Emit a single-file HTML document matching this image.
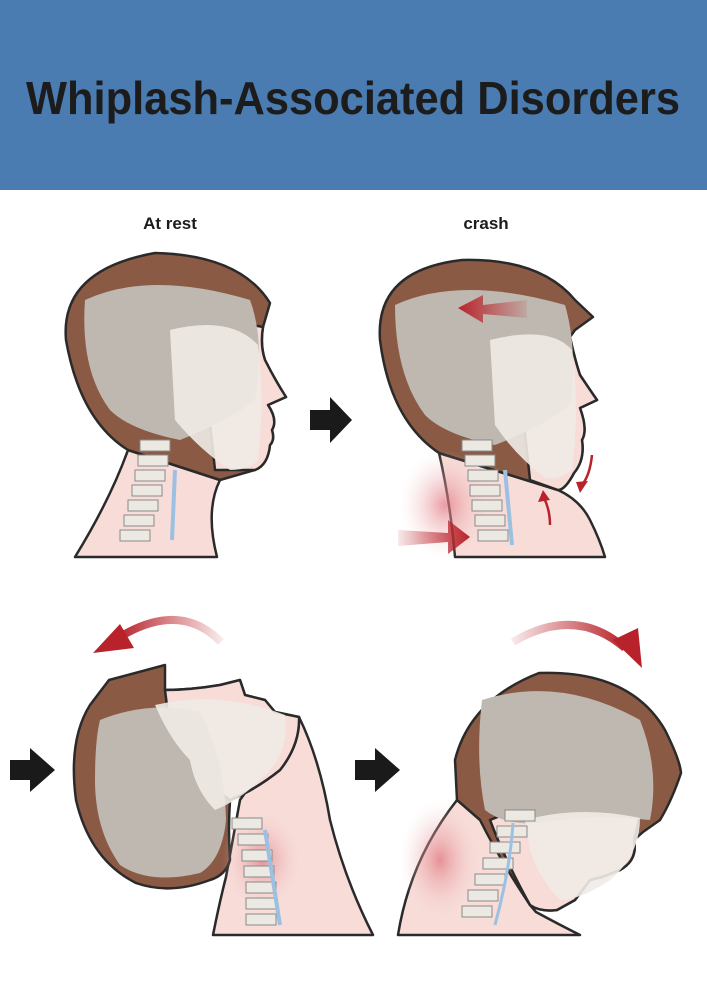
<!DOCTYPE html>
<html><head><meta charset="utf-8"><style>
html,body{margin:0;padding:0;background:#fff;}
svg{display:block;}
</style></head><body>
<svg width="707" height="1000" viewBox="0 0 707 1000" xmlns="http://www.w3.org/2000/svg">
<defs>
<radialGradient id="rg" cx="0.5" cy="0.5" r="0.5"><stop offset="0" stop-color="#e0707a" stop-opacity="0.7"/><stop offset="1" stop-color="#f6d9d6" stop-opacity="0"/></radialGradient>
<linearGradient id="la" x1="1" x2="0"><stop offset="0" stop-color="#b8232b" stop-opacity="0.1"/><stop offset="1" stop-color="#b8232b"/></linearGradient>
<linearGradient id="lb" x1="0" x2="1"><stop offset="0" stop-color="#b8232b" stop-opacity="0.1"/><stop offset="1" stop-color="#b8232b"/></linearGradient>
</defs>
<rect x="0" y="0" width="707" height="190" fill="#4a7bb1"/>
<text x="26" y="114" font-family="Liberation Sans, sans-serif" font-weight="bold" font-size="46" fill="#1c1c1c" textLength="654" lengthAdjust="spacingAndGlyphs">Whiplash-Associated Disorders</text>
<text x="170" y="229" font-family="Liberation Sans, sans-serif" font-weight="bold" font-size="17" fill="#1c1c1c" text-anchor="middle">At rest</text>
<text x="486" y="229" font-family="Liberation Sans, sans-serif" font-weight="bold" font-size="17" fill="#1c1c1c" text-anchor="middle">crash</text>

<!-- Panel 1 -->
<g stroke="#2a2a2a" stroke-width="2.5" stroke-linejoin="round">
<path d="M75 557 Q110 500 128 450 L220 480 Q205 510 217 557 Z" fill="#f7dcd8"/>
<path d="M128 450 Q80 420 66 340 Q60 270 155 253 Q240 255 270 303 L263 327 Q260 345 265 360 Q275 380 286 397 L268 405 Q278 420 272 430 Q275 440 270 445 Q268 465 255 470 L220 480 Z" fill="#8b5a45"/>
<path d="M215 470 L200 330 Q230 320 263 327 Q260 345 265 360 Q275 380 286 397 L268 405 Q278 420 272 430 Q275 440 270 445 Q268 465 255 470 Z" fill="#f7dcd8"/>
</g>
<path d="M85 300 Q150 270 250 300 Q265 340 255 400 Q230 420 180 440 Q130 430 110 410 Q80 370 85 300 Z" fill="#bfb8b0"/>
<path d="M170 330 Q230 315 258 345 Q265 400 258 460 Q250 470 230 470 Q200 450 175 420 Z" fill="#f0ebe6" opacity="0.9"/>
<g fill="#ece8e2" stroke="#8a8a8a" stroke-width="1">
<rect x="140" y="440" width="30" height="11"/><rect x="138" y="455" width="30" height="11"/><rect x="135" y="470" width="30" height="11"/><rect x="132" y="485" width="30" height="11"/><rect x="128" y="500" width="30" height="11"/><rect x="124" y="515" width="30" height="11"/><rect x="120" y="530" width="30" height="11"/>
</g>
<path d="M175 470 L172 540" stroke="#9cc0e2" stroke-width="4"/>

<!-- arrow 1 -->
<path d="M310 410 L330 410 L330 397 L352 420 L330 443 L330 430 L310 430 Z" fill="#1a1a1a"/>

<!-- Panel 2 -->
<g stroke="#2a2a2a" stroke-width="2.5" stroke-linejoin="round">
<path d="M455 557 Q450 500 439 453 L558 490 Q580 500 590 520 Q600 540 605 557 Z" fill="#f7dcd8"/>
<path d="M439 453 Q390 420 380 340 Q375 270 462 260 Q540 258 575 300 L593 317 L575 330 L570 337 Q575 360 580 375 Q590 390 597 400 L580 408 Q588 430 582 440 Q585 460 574 473 Q565 490 558 490 Z" fill="#8b5a45"/>
<path d="M530 480 L515 340 Q545 330 570 337 Q575 360 580 375 Q590 390 597 400 L580 408 Q588 430 582 440 Q585 460 574 473 Q565 490 558 490 Z" fill="#f7dcd8"/>
</g>
<ellipse cx="445" cy="505" rx="45" ry="55" fill="url(#rg)"/>
<path d="M395 305 Q460 275 565 305 Q578 350 570 405 Q545 425 495 445 Q445 435 425 415 Q395 375 395 305 Z" fill="#bfb8b0"/>
<path d="M490 340 Q550 325 572 350 Q580 410 572 470 Q560 480 545 478 Q515 455 495 425 Z" fill="#f0ebe6" opacity="0.9"/>
<g fill="#ece8e2" stroke="#8a8a8a" stroke-width="1">
<rect x="462" y="440" width="30" height="11"/><rect x="465" y="455" width="30" height="11"/><rect x="468" y="470" width="30" height="11"/><rect x="470" y="485" width="30" height="11"/><rect x="472" y="500" width="30" height="11"/><rect x="475" y="515" width="30" height="11"/><rect x="478" y="530" width="30" height="11"/>
</g>
<path d="M505 470 L512 545" stroke="#9cc0e2" stroke-width="4"/>
<path d="M527 300 L483 305 L483 295 L458 308 L483 323 L483 314 L527 318 Z" fill="url(#la)"/>
<path d="M398 530 L448 533 L448 520 L470 537 L448 554 L448 542 L398 546 Z" fill="url(#lb)"/>
<path d="M592 455 Q590 475 582 485" stroke="#b8232b" stroke-width="2.5" fill="none"/><path d="M576 482 L580 493 L588 481 Z" fill="#b8232b"/>
<path d="M550 525 Q550 510 544 498" stroke="#b8232b" stroke-width="2.5" fill="none"/><path d="M538 502 L543 490 L550 500 Z" fill="#b8232b"/>

<!-- Panel 3 -->
<path d="M10 760 L30 760 L30 748 L55 770 L30 792 L30 780 L10 780 Z" fill="#1a1a1a"/>
<g stroke="#2a2a2a" stroke-width="2.5" stroke-linejoin="round">
<path d="M213 935 Q220 900 226 877 L240 800 L299 717 Q320 760 330 820 Q345 880 373 935 Z" fill="#f7dcd8"/>
<path d="M109 680 L165 665 L165 690 Q190 690 220 685 L240 680 L245 695 L265 700 L275 712 L299 717 Q300 745 280 770 Q255 790 230 800 Q228 830 230 860 Q226 875 210 880 Q170 895 136 883 Q90 860 76 800 Q68 740 90 705 Z" fill="#8b5a45"/>
<path d="M165 690 Q190 690 220 685 L240 680 L245 695 L265 700 L275 712 L299 717 Q300 745 280 770 Q255 790 230 800 Q200 780 170 730 Z" fill="#f7dcd8"/>
</g>
<ellipse cx="262" cy="860" rx="40" ry="50" fill="url(#rg)"/>
<path d="M100 720 Q150 700 200 712 Q225 760 226 820 Q222 860 200 873 Q150 885 120 865 Q95 830 95 780 Q95 740 100 720 Z" fill="#bfb8b0"/>
<path d="M155 705 Q220 690 285 715 Q290 755 260 780 Q240 800 215 810 Q195 790 190 760 Q170 740 155 705 Z" fill="#f0ebe6" opacity="0.9"/>
<g fill="#ece8e2" stroke="#8a8a8a" stroke-width="1">
<rect x="232" y="818" width="30" height="11"/><rect x="238" y="834" width="30" height="11"/><rect x="242" y="850" width="30" height="11"/><rect x="244" y="866" width="30" height="11"/><rect x="246" y="882" width="30" height="11"/><rect x="246" y="898" width="30" height="11"/><rect x="246" y="914" width="30" height="11"/>
</g>
<path d="M265 830 L280 925" stroke="#9cc0e2" stroke-width="4"/>
<path d="M221 642 Q180 600 118 638" stroke="url(#la)" stroke-width="8" fill="none"/>
<path d="M120 624 L93 653 L134 648 Z" fill="#b8232b"/>

<!-- Panel 4 -->
<path d="M355 760 L375 760 L375 748 L400 770 L375 792 L375 780 L355 780 Z" fill="#1a1a1a"/>
<g stroke="#2a2a2a" stroke-width="2.5" stroke-linejoin="round">
<path d="M398 935 Q410 860 457 800 L520 850 L530 905 L536 912 Q560 925 580 935 Z" fill="#f7dcd8"/>
<path d="M457 800 L455 760 Q470 700 539 673 Q630 670 665 730 Q680 760 681 773 Q672 800 660 820 L643 832 L634 840 Q638 860 620 870 L602 877 L590 880 L575 900 L557 910 Q540 912 530 905 Q500 860 480 820 Z" fill="#8b5a45"/>
<path d="M490 820 Q560 790 640 815 L634 840 Q638 860 620 870 L602 877 L590 880 L575 900 L557 910 Q540 912 530 905 Q505 860 490 820 Z" fill="#f7dcd8"/>
</g>
<ellipse cx="440" cy="860" rx="40" ry="60" fill="url(#rg)"/>
<path d="M482 700 Q560 675 640 720 Q660 770 650 820 Q600 815 560 820 Q510 830 485 810 Q475 760 482 700 Z" fill="#bfb8b0"/>
<path d="M525 820 Q580 805 640 818 Q640 855 610 880 Q580 900 560 900 Q540 880 530 850 Z" fill="#f0ebe6" opacity="0.9"/>
<g fill="#ece8e2" stroke="#8a8a8a" stroke-width="1">
<rect x="505" y="810" width="30" height="11"/><rect x="497" y="826" width="30" height="11"/><rect x="490" y="842" width="30" height="11"/><rect x="483" y="858" width="30" height="11"/><rect x="475" y="874" width="30" height="11"/><rect x="468" y="890" width="30" height="11"/><rect x="462" y="906" width="30" height="11"/>
</g>
<path d="M513 823 Q510 870 495 925" stroke="#9cc0e2" stroke-width="3" fill="none"/>
<path d="M513 642 Q575 605 625 648" stroke="url(#lb)" stroke-width="8" fill="none"/>
<path d="M613 640 L642 668 L638 628 Z" fill="#b8232b"/>
</svg>
</body></html>
